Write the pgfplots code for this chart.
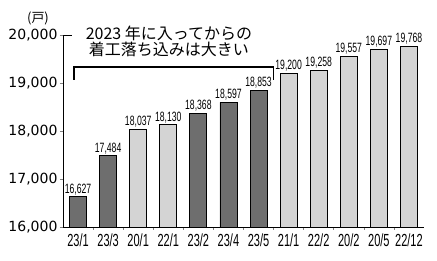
\documentclass[border=0pt]{standalone}
\usepackage{fontspec}
\usepackage{pgfplots}
\pgfplotsset{compat=1.18}
\setmainfont{Liberation Sans}
\newfontfamily\jp{Noto Sans CJK JP}
\newfontfamily\cond[FakeStretch=0.64]{Liberation Sans}
\newfontfamily\condx[FakeStretch=0.63]{Liberation Sans}
\newfontfamily\ytf{DejaVu Sans}
\definecolor{darkbar}{HTML}{6E6E6E}
\definecolor{lightbar}{HTML}{D4D4D4}
\begin{document}
\begin{tikzpicture}
\begin{axis}[
  at={(63pt,34pt)}, anchor=south west,
  scale only axis, width=361pt, height=192pt,
  xmin=-0.5, xmax=11.5, ymin=16000, ymax=20000,
  axis lines=left, axis line style={line width=0.8pt, -},
  clip=false,
  xtick={0,...,11},
  xticklabels={23/1,23/3,20/1,22/1,23/2,23/4,23/5,21/1,22/2,20/2,20/5,22/12},
  minor xtick={0.5,1.5,...,10.5},
  major x tick style={draw=none},
  minor x tick style={line width=0.6pt},
  minor tick length=3pt,
  tick align=inside,
  ytick={16000,17000,18000,19000,20000},
  y tick style={line width=0.6pt, xshift=-3pt},
  major tick length=3pt,
  scaled y ticks=false,
  yticklabel style={font=\fontsize{14}{16}\ytf, /pgf/number format/1000 sep={,}, /pgf/number format/assume math mode=true, xshift=-2pt},
  xticklabel style={font=\fontsize{17.5}{19}\condx, yshift=0pt},
  ybar, bar width=17pt,
  nodes near coords,
  nodes near coords style={font=\fontsize{13.5}{15}\cond, inner sep=1.5pt, /pgf/number format/1000 sep={,}, /pgf/number format/assume math mode=true},
]
\addplot[draw=black, line width=0.8pt, fill=darkbar, bar shift=0pt] coordinates {
  (0,16627) (1,17484) (4,18368) (5,18597) (6,18853)
};
\addplot[draw=black, line width=0.8pt, fill=lightbar, bar shift=0pt] coordinates {
  (2,18037) (3,18130) (7,19200) (8,19258) (9,19557) (10,19697) (11,19768)
};
\draw[line width=1.8pt] (axis cs:-0.14,19063) |- (axis cs:6.5,19333) -- (axis cs:6.5,19063);
\end{axis}
\draw[line width=0.6pt] (63pt,226pt) -- (72pt,226pt);
\node[font=\fontsize{13}{15}\jp] at (38pt,243pt) {(戸)};
\node[font=\fontsize{16}{18}\jp, align=center, anchor=center] at (169pt,219.5pt) {2023 年に入ってからの\\[-1.5pt]着工落ち込みは大きい};
\pgfresetboundingbox
\path[use as bounding box] (0,0) rectangle (437pt,261pt);
\end{tikzpicture}
\end{document}
